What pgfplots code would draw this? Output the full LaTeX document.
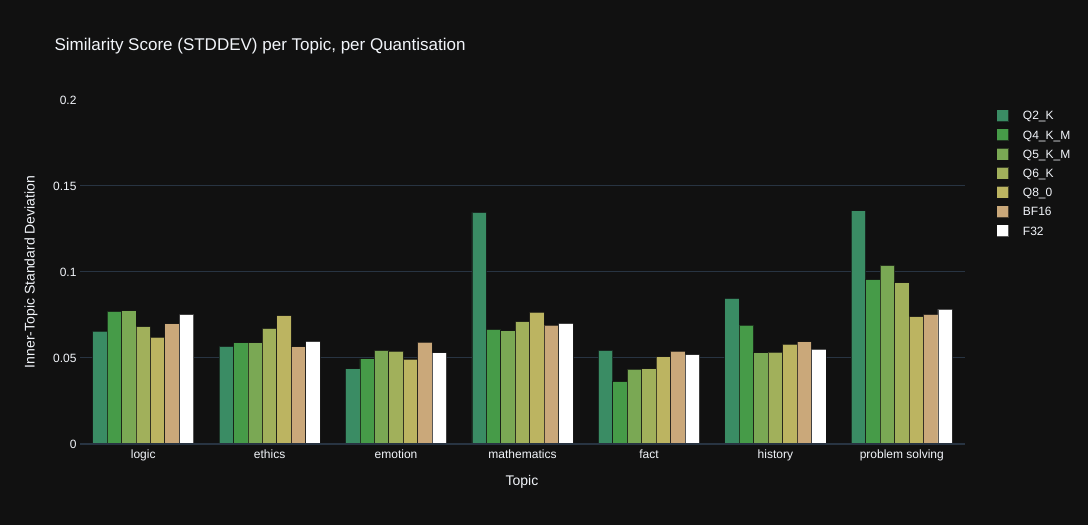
\documentclass[border=0pt]{standalone}
\usepackage{pgfplots}
\usepackage{pgfplotstable}
\pgfplotsset{compat=1.18}
\usepackage{fontspec}
\setmainfont{Liberation Sans}
\definecolor{bg}{HTML}{111111}
\definecolor{gridc}{HTML}{283442}
\definecolor{txt}{HTML}{F2F5FA}
\definecolor{cQa}{HTML}{3A8C64}
\definecolor{cQb}{HTML}{469B48}
\definecolor{cQc}{HTML}{7AA854}
\definecolor{cQd}{HTML}{A1B05B}
\definecolor{cQe}{HTML}{BCB461}
\definecolor{cQf}{HTML}{CAA87A}
\definecolor{cQg}{HTML}{FFFFFF}
\pgfplotstableread{
x Q2 Q4 Q5 Q6 Q8 BF16 F32
0 0.0656 0.0771 0.0774 0.0683 0.0621 0.0699 0.0753
1 0.0567 0.0588 0.0588 0.0672 0.0747 0.0565 0.0596
2 0.0437 0.0495 0.0544 0.0540 0.0493 0.0592 0.0530
3 0.1347 0.0666 0.0658 0.0712 0.0766 0.0691 0.0701
4 0.0544 0.0362 0.0435 0.0437 0.0507 0.0540 0.0520
5 0.0846 0.0691 0.0530 0.0534 0.0580 0.0594 0.0551
6 0.1356 0.0955 0.1038 0.0937 0.0740 0.0753 0.0784
}\datatable
\begin{document}
\begin{tikzpicture}
\fill[bg] (0,0) rectangle (1088bp,525bp);
\begin{axis}[
  at={(80bp,81bp)}, anchor=south west,
  scale only axis, width=885bp, height=344bp,
  xmin=-0.5, xmax=6.5, ymin=0, ymax=0.2,
  ybar=0pt, bar width=0.1143,
  xtick={0,...,6},
  xticklabels={logic,ethics,emotion,mathematics,fact,history,problem solving},
  ytick={0,0.05,0.1,0.15,0.2},
  yticklabels={0,0.05,0.1,0.15,0.2},
  extra y ticks={0.05,0.1,0.15},
  extra y tick labels={},
  extra y tick style={grid=major, major grid style={draw=gridc, line width=1bp}},
  major tick length=0pt,
  axis line style={draw=none},
  tick label style={font=\fontsize{12bp}{14bp}\selectfont, text=txt},
  xticklabel style={yshift=-2bp},
  yticklabel style={xshift=0bp},
  xlabel={Topic},
  ylabel={Inner-Topic Standard Deviation},
  label style={font=\fontsize{14bp}{16bp}\selectfont, text=txt},
  xlabel style={at={(rel axis cs:0.4994,-0.1105)}, anchor=center},
  ylabel style={at={(rel axis cs:-0.0554,0.5)}, anchor=center},
  title={Similarity Score (STDDEV) per Topic, per Quantisation},
  title style={at={(rel axis cs:-0.0327,1.1395)}, anchor=west, font=\fontsize{17bp}{20bp}\selectfont, text=txt},
  legend cell align=left,
  legend image code/.code={\draw[#1] (0bp,-4.2bp) rectangle (12bp,7.8bp); \path (26bp,1.8bp);},
  legend style={at={(rel axis cs:1.035,0.9738)}, anchor=north west, draw=none, fill=none,
    inner sep=0pt, row sep=5bp, font=\fontsize{12bp}{14bp}\selectfont, text=txt,
    nodes={inner sep=0pt, text height=8.5bp, text depth=3.5bp}},
  every axis plot/.append style={draw=bg, draw opacity=0.7, line width=0.8bp},
  clip=false,
]
\addplot[fill=cQa] table[x=x,y=Q2]{\datatable};
\addplot[fill=cQb] table[x=x,y=Q4]{\datatable};
\addplot[fill=cQc] table[x=x,y=Q5]{\datatable};
\addplot[fill=cQd] table[x=x,y=Q6]{\datatable};
\addplot[fill=cQe] table[x=x,y=Q8]{\datatable};
\addplot[fill=cQf] table[x=x,y=BF16]{\datatable};
\addplot[fill=cQg] table[x=x,y=F32]{\datatable};
\legend{Q2\_K,Q4\_K\_M,Q5\_K\_M,Q6\_K,Q8\_0,BF16,F32}
\draw[gridc, line width=2bp] (axis cs:-0.5,0) -- (axis cs:6.5,0);
\end{axis}
\end{tikzpicture}
\end{document}
